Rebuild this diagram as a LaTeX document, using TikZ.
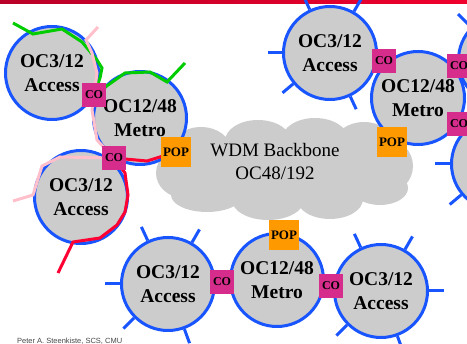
\documentclass[tikz,border=0pt]{standalone}
\usepackage{fontspec}
\setmainfont{Liberation Serif}
\newfontfamily\footfont{Liberation Sans}

\definecolor{ringblue}{RGB}{25,85,255}
\definecolor{ringgray}{RGB}{204,204,204}
\definecolor{comag}{RGB}{214,45,140}
\definecolor{poporange}{RGB}{255,153,0}
\definecolor{ringgreen}{RGB}{0,204,0}
\definecolor{ringpink}{RGB}{255,192,203}
\definecolor{ringred}{RGB}{255,0,51}
\definecolor{bardark}{RGB}{185,0,40}
\definecolor{barlight}{RGB}{240,0,45}

\tikzset{
  ring/.style={circle, draw=ringblue, line width=3pt, fill=ringgray,
    inner sep=0pt, minimum size=93pt, align=center,
    font=\bfseries\fontsize{19.5}{24}\selectfont},
  spike/.style={draw=ringblue, line width=3pt},
  cobox/.style={rectangle, fill=comag, minimum size=24pt, inner sep=0pt,
    font=\bfseries\fontsize{12}{12}\selectfont},
  popbox/.style={rectangle, fill=poporange, minimum size=30pt, inner sep=0pt,
    font=\bfseries\fontsize{13}{13}\selectfont},
  pathline/.style={line width=3pt, line join=miter},
}

\begin{document}
\begin{tikzpicture}[x=1pt,y=-1pt]
\useasboundingbox (0,0) rectangle (467,344);
\clip (0,0) rectangle (467,344);

% title rule
\shade[left color=bardark, right color=barlight] (0,0) rectangle (467,3.5);

% backbone cloud, built from overlapping puffs
\fill[ringgray]
  (284,170) ellipse [x radius=115, y radius=38]
  (201,150) ellipse [x radius=30, y radius=23]
  (258,141) ellipse [x radius=33, y radius=21]
  (315,139) ellipse [x radius=33, y radius=21]
  (364,143) ellipse [x radius=29, y radius=21]
  (386,166) ellipse [x radius=27, y radius=27]
  (184,173) ellipse [x radius=28, y radius=25]
  (207,195) ellipse [x radius=36, y radius=17]
  (268,200) ellipse [x radius=36, y radius=20]
  (330,199) ellipse [x radius=33, y radius=20]
  (380,188) ellipse [x radius=28, y radius=17];
\node[align=center, font=\fontsize{19}{23}\selectfont] (wdm) at (275,162)
  {WDM Backbone\\OC48/192};

% rings
\node[ring] (a1) at (52,73) {OC3/12\\Access};
\node[ring] (m1) at (140,118) {OC12/48\\Metro};
\node[ring] (a3) at (81,197) {OC3/12\\Access};
\node[ring] (a4) at (330,53) {OC3/12\\Access};
\node[ring] (m2) at (418,98) {OC12/48\\Metro};
\node[ring, minimum size=91pt] (a5) at (504,60) {};
\node[ring] (a6) at (498,164) {};
\node[ring] (b1) at (168,284) {OC3/12\\Access};
\node[ring] (b2) at (277,280) {OC12/48\\Metro};
\node[ring] (b3) at (381,291) {OC3/12\\Access};

% customer spurs
\foreach \a in {180,220,295,60,115} \draw[spike] (a4.\a) -- ++(\a:14pt);
\foreach \a in {115,60,180,225,290} \draw[spike] (b1.\a) -- ++(\a:15pt);
\foreach \a in {115,60,0,225,290} \draw[spike] (b3.\a) -- ++(\a:15pt);
\foreach \a in {180,220} \draw[spike] (a6.\a) -- ++(\a:15pt);
\draw[spike] (a5.135) -- ++(135:18pt);

% central offices and points of presence on the protected rings
\coordinate (co1) at (94,95);
\coordinate (co2) at (114,158);
\coordinate (pop1) at (176,152);

% protection paths
\draw[pathline, ringgreen] (13,23) -- (33,34) -- (62,29) -- (82,42) -- (97,60)
  -- (102,68) -- (100,78) -- (co1) -- (125,73) -- (150,72) -- (167,82) -- (185,63);
\draw[pathline, ringpink] (98,27) -- (86,40) -- (92,53) -- (97,73) -- (co1)
  -- (92,110) -- (97,140) -- (co2) -- (60,157) -- (42,166) -- (33,195) -- (13,201);
\draw[pathline, ringred] (pop1) -- (147,161) -- (co2) -- (125,173) -- (128,195)
  -- (125,212) -- (117,225) -- (100,238) -- (73,242) -- (58,273);

% boxes
\node[cobox] (co1box) at (co1) {CO};
\node[cobox] (co2box) at (co2) {CO};
\node[popbox] (pop1box) at (pop1) {POP};
\node[cobox] (co3) at (384,61) {CO};
\node[cobox] (co4) at (459,66) {CO};
\node[cobox] (co5) at (459,124) {CO};
\node[popbox] (pop2) at (392,142) {POP};
\node[popbox] (pop3) at (284,235) {POP};
\node[cobox] (co6) at (222,282) {CO};
\node[cobox] (co7) at (331,286) {CO};

% footer
\node[anchor=west, inner sep=0pt, text=black!72, font=\footfont\fontsize{7.5}{8}\selectfont]
  (credit) at (17,341) {Peter A. Steenkiste, SCS, CMU};
\end{tikzpicture}
\end{document}
